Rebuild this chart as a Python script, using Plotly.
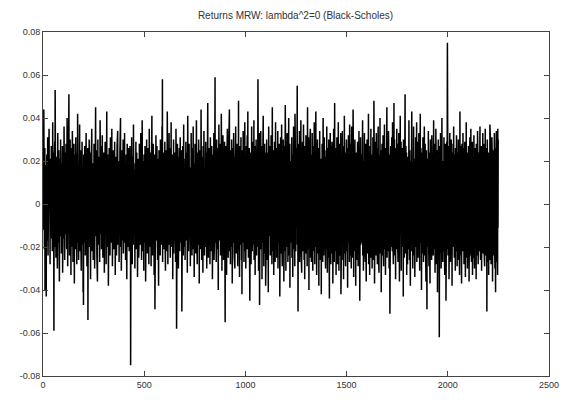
import plotly.graph_objects as go

# Daily returns in units of 0.001 (one value per time step, t = 0 .. 2249)
returns_milli = [
    5, -12, 20, 3, 44, -9, 14, -21, 7, 26, -40, 11, -3, 18, -15, 2, -43, 9, -6, 23, 13, -17, 4, 31, -8,
    -24, 10, -2, 16, -11, 35, 6, -19, 1, 12, -28, 21, -7, 8, 15, -13, 27, -4, -16, 3, 19, -22, 11, 38, -5,
    9, -14, 24, -1, -59, 17, -8, 6, 29, -20, 53, 2, -10, 13, -25, 7, 18, -3, 22, -12, 4, -30, 14, 33, -6,
    11, -18, 1, 25, -9, 15, -36, 8, 21, -4, 12, -15, 30, -7, 3, 19, -23, 10, -1, 16, -11, 27, -32, 5, 13,
    -2, 21, -16, 9, 36, -10, 4, -26, 14, 7, -19, 24, -5, 11, 28, -14, 2, -21, 17, 40, -8, 12, -29, 6, 18,
    -13, 3, 22, 51, -6, 15, -24, 8, -11, 30, 1, -17, 19, -33, 10, 26, -4, 13, -20, 5, 34, -9, 16, -27, 2,
    20, -15, 7, 28, -12, -37, 14, 3, 23, -8, 11, -21, 31, -3, 17, -10, 6, -28, 24, 9, -18, 42, -6, 13, -1,
    16, -26, 4, 19, -13, 9, 37, -22, 2, 14, -7, 25, -16, 8, -31, 21, 12, -5, 29, -19, 6, -11, 18, -41, 10,
    -47, 23, -9, 15, 4, -18, 27, -2, 12, -24, 20, 7, -14, 33, -6, 10, 18, -29, 3, 15, -12, 26, -54, 9, 21,
    -7, 13, -20, 30, 5, -16, 11, 24, -10, 2, -35, 17, 8, -3, 22, -13, 35, -22, 6, 14, -9, 19, 1, -26, 12,
    18, -5, 28, -18, 9, -30, 15, 4, -12, 21, 45, -15, 7, 25, -8, 13, -23, 1, 17, -36, 10, 30, -4, 14, -19,
    6, 22, -11, 3, 16, -27, 12, 39, -7, 19, -14, 8, -2, 27, -21, 11, 5, -17, 32, -9, 15, -25, 20, 2, -13,
    24, -8, 10, -32, 17, 6, -19, 29, -3, 13, -10, 21, -28, 4, 14, 43, -16, 9, -6, 23, -20, 11, 18, -38, 3,
    -11, 15, 26, -14, 7, 19, -24, 1, 31, -9, 12, -18, 5, 22, -4, 35, -15, 10, -29, 16, 8, -12, 25, -6, 13,
    -21, 4, 18, -1, 29, -16, 9, -33, 14, 22, -8, 3, 17, -24, 11, -5, 27, -13, 6, 34, -19, 12, -2, 20, -10,
    8, -27, 15, 2, -14, 24, -7, 11, 40, -20, 6, 13, -31, 19, 3, -11, 25, -17, 9, -4, 16, 30, -23, 5, -9,
    21, -12, 7, 33, -18, 10, -3, 17, -26, 12, 4, 23, -15, 8, -35, 14, 28, -6, 11, -20, 19, 1, -13, 26, -8,
    14, -22, 5, 18, -10, 27, -4, 12, -75, 9, 20, -16, 3, 31, -11, 15, -28, 6, 22, -7, 13, -19, 37, 2, -14,
    10, 25, -9, 16, -30, 4, 19, -13, 8, 29, -21, 12, -1, 24, -17, 7, 15, -34, 11, 3, 21, -10, 17, -25, 6,
    -15, 28, -5, 13, 22, -19, 9, -8, 33, -14, 18, 2, -26, 11, 6, 39, -12, 15, -22, 4, 20, -7, 12, -31, 23,
    -3, 16, -18, 8, 27, -11, 14, -36, 5, 21, -9, 10, 30, -15, 3, 17, -23, 12, -4, 26, -14, 7, 19, -28, 9,
    35, -10, 13, -20, 6, 24, -16, 2, 18, -29, 11, 15, -7, 41, -13, 9, -24, 20, 4, -11, 28, -18, 12, 6, -33,
    17, -6, 23, -49, 10, 14, -21, 8, 32, -12, 5, 19, -17, 27, -3, 13, -26, 9, 21, -8, 16, -38, 11, 25, -14,
    4, 20, -10, 15, -24, 30, 7, -15, 13, -5, 22, -19, 10, 36, -12, 58, -27, 8, 17, -9, 24, -16, 3, 19, -21,
    12, -7, 29, -13, 5, -31, 18, 10, -18, 25, -4, 14, -22, 9, 43, -10, 16, -28, 6, 21, -14, 11, -3, 33, -19,
    8, 26, -11, 15, -25, 3, 19, -8, 38, -16, 12, 5, -20, 23, -6, 14, -35, 17, 9, -12, 30, -23, 7, 18, -4,
    -17, 11, 24, -9, 16, -27, 6, 35, -14, 10, -58, 20, 2, -11, 28, -19, 13, -5, 22, -30, 8, 15, -13, 26, -7,
    19, -22, 4, 31, -10, 14, -18, 9, 25, -3, 17, -50, 12, 6, -15, 27, -8, 20, -24, 11, 37, -12, 5, 16, -20,
    13, 3, -26, 21, -7, 15, 29, -17, 8, -11, 24, -4, 18, -32, 10, 41, -14, 6, 19, -22, 12, -9, 28, -16, 2,
    23, -13, 9, -29, 17, 5, -19, 33, -6, 14, 22, -24, 11, -2, 26, -15, 8, 36, -21, 13, -10, 19, -34, 7, 16,
    -8, 28, -17, 12, 4, -23, 20, -12, 39, 9, -14, 15, -28, 24, -5, 11, 17, -19, 6, 30, -11, 14, -37, 21, -3,
    10, -16, 25, 7, -21, 13, 44, -9, 18, -26, 3, 15, -13, 22, 8, -32, 27, -7, 12, -18, 34, -4, 16, -24, 11,
    -1, 19, -14, 9, 29, -20, 14, -6, 24, -30, 11, 5, -17, 21, 47, -12, 8, -25, 17, 3, -10, 26, -19, 13, 6,
    -28, 15, 31, -8, 10, -22, 18, 4, -15, 27, -11, 20, -35, 12, 7, 23, -16, 14, -4, 33, -26, 9, 18, -13, 25,
    59, -18, 6, 21, -9, 14, -27, 11, 30, -14, 3, 19, -21, 26, -6, 12, -40, 17, 8, 37, -12, 22, -17, 5, 15,
    -10, 28, -24, 9, 18, -16, 42, -7, 13, -31, 21, 4, -19, 16, 32, -11, 10, -26, 24, -3, 14, -20, 29, 7, -13,
    -55, 20, 11, -15, 27, -8, 16, -33, 6, 23, -12, 35, -19, 10, 3, -25, 19, -5, 28, -16, 13, 44, -22, 8, -9,
    17, -28, 12, 25, -13, 4, -20, 30, -7, 15, -37, 21, 9, -11, 26, -18, 5, 33, -14, 12, -24, 18, 1, -30, 22,
    -6, 14, 36, -17, 10, -23, 20, -9, 28, 4, -15, 24, -29, 13, 8, -12, 48, -21, 16, -4, 22, -34, 11, 27, -10,
    19, -19, 6, 31, -13, 15, -26, 10, -42, 18, 25, -8, 12, -18, 34, 3, -14, 21, -27, 9, 16, -7, 38, -22, 13,
    -11, 23, -30, 8, 17, 27, -16, 11, -5, 32, -21, 14, 43, -13, 6, -25, 20, -9, 15, 26, -18, 10, -45, 18, 4,
    24, -12, 13, -28, 19, 5, 36, -15, 9, -22, 16, 29, -6, 12, -19, 22, -11, 39, -26, 7, 15, -14, 27, -33, 10,
    -8, 20, -17, 30, 11, -24, 14, 4, -13, 25, -20, 17, 58, -10, 8, -31, 23, -15, 13, 33, -47, 9, -5, 26, -16,
    12, 34, -21, 6, 18, -11, 27, -35, 15, 9, -18, 22, -7, 41, -14, 11, -29, 19, 4, -23, 28, -12, 16, -9, 24,
    -38, 13, 21, -16, 8, 30, -10, 17, -26, 5, 24, -13, 12, -41, 19, 36, -20, 7, 15, -15, 27, -8, 11, -24, 22,
    3, -14, 32, -19, 10, 18, -28, 14, 45, -11, 7, -22, 25, -6, 13, -33, 20, 9, -17, 29, -12, 16, -27, 12, 38,
    -21, 6, 17, -9, 26, -25, 11, 22, -15, 8, 34, -30, 14, -4, 19, -18, 28, 10, -12, 23, -43, 15, 5, -16, 31,
    -7, 20, -23, 13, 37, -14, 9, -29, 24, 2, -19, 16, 30, -11, 12, -36, 21, 7, -13, 27, -22, 14, 46, -9, 17,
    -31, 10, 25, -16, 15, -8, 33, -20, 11, 19, -27, 6, 22, -13, 40, -24, 9, 16, -10, 28, -39, 13, 20, -5, 12,
    -18, 27, -12, 8, 31, -25, 17, -6, 23, -34, 14, 11, -16, 36, -21, 5, 24, -14, 10, -29, 42, -9, 18, 13, -22,
    26, -15, 7, 21, -11, 30, 55, -19, 12, -3, -50, 16, 28, -24, 9, 19, -13, 34, -27, 14, 6, -17, 25, -10, 39,
    -20, 11, 17, -32, 24, 8, -14, 29, -22, 13, 4, -18, 37, -9, 20, -26, 15, 10, -35, 27, -12, 18, 3, -16, 32,
    -23, 14, 9, -13, 26, -29, 19, 45, -10, 12, -21, 31, -6, 16, -40, 22, 7, -15, 28, -19, 11, 35, -25, 13, -8,
    18, -27, 23, 6, -17, 33, -12, 15, -31, 20, 10, -9, 27, -22, 14, 38, -16, 8, -28, 21, -5, 17, -14, 43, -20,
    9, 24, -33, 13, -10, 19, 30, -23, 11, -15, 26, -7, 16, -38, 22, 12, -19, 34, -11, 7, 29, -26, 15, -13, 21,
    -42, 17, 10, -18, 28, -9, 23, -27, 14, 40, -14, 8, -24, 19, -3, 31, -20, 12, 25, -16, 9, -30, 22, 16, -11,
    14, -21, 36, -8, 18, -32, 11, 26, -15, 20, -25, 7, 30, -12, 15, -44, 24, 5, -19, 33, -10, 17, -28, 13, 27,
    -14, 22, -6, 29, -23, 12, 16, -37, 21, 9, -16, 35, -11, 19, -27, 14, 47, -18, 10, -22, 26, -8, 13, -33, 20,
    8, -17, 31, -12, 24, -28, 15, 11, -20, 38, -9, 17, -31, 22, 6, -14, 28, -24, 12, 19, -16, 33, -42, 10, 25,
    -13, 19, -26, 14, 34, -10, 21, -19, 9, 27, -35, 13, 18, -12, 41, -23, 11, 24, -15, 16, -29, 20, 7, -21, 30,
    -9, 15, -22, 26, 12, -39, 18, 8, -14, 32, -18, 23, -6, 14, -27, 37, -12, 19, 10, -24, 28, -16, 13, -30, 21,
    36, -20, 11, -13, 25, -25, 16, 44, -11, 20, -34, 9, 27, -17, 14, -8, 30, -22, 12, 18, -38, 15, 24, -12, 7,
    -26, 21, 13, -16, 29, -9, 17, -29, 22, 6, -14, 34, -21, 11, 26, -45, 19, 8, -13, 31, -19, 14, -7, 23, 16,
    -18, 27, -11, 12, 39, -24, 15, 20, -31, 10, -15, 24, -8, 33, -20, 13, 18, -27, 9, 28, -12, 16, -36, 21, 11,
    -14, 30, -23, 17, 7, -17, 25, -10, 42, -28, 14, 19, -13, 22, -33, 8, 27, -19, 15, -6, 35, -25, 12, 18, -10,
    23, -30, 16, 9, -21, 31, -12, 14, -26, 20, 48, -15, 11, -37, 24, 6, -18, 29, -9, 17, -24, 13, 33, -14, 19,
    -7, 26, -28, 12, 21, -13, 36, -20, 15, 8, -32, 23, -11, 18, -16, 40, -23, 10, 25, -15, 13, -41, 20, 7, -19,
    28, -12, 17, -24, 14, 32, -17, 9, -29, 22, 12, -10, 37, -21, 16, -14, 26, -33, 11, 19, -18, 24, -8, 15, 45,
    -25, 13, 20, -15, 29, -22, 10, 34, -11, 17, -30, 14, 23, -9, -51, 18, 12, -26, 27, -14, 21, -20, 9, 31, -16,
    15, -22, 38, -12, 19, 11, -28, 25, -7, 47, -18, 13, 30, -24, 16, -13, 22, -35, 10, 26, -17, 14, -10, 35, -21,
    12, 28, -15, 17, -27, 9, 24, -19, 33, -11, 15, -36, 20, 13, -22, 41, -14, 18, -8, 29, -31, 11, 23, -16, 14,
    -20, 26, -12, 19, 7, -43, 30, -17, 13, 21, -25, 16, -9, 35, 51, -23, 12, -14, 27, -19, 10, 24, -33, 15, -6,
    18, -28, 22, 11, -16, 32, -21, 14, 39, -13, 9, -26, 25, -10, 17, -38, 20, 12, -18, 28, -11, 15, 43, -22, 13,
    -15, 19, -30, 24, 8, -19, 36, -14, 16, -24, 21, 11, -34, 27, -12, 13, 31, -20, 9, -16, 23, 38, -27, 14, -9,
    22, -17, 29, -25, 12, 18, -13, 33, -21, 15, 7, -31, 20, -8, 42, -18, 11, 26, -15, 17, -40, 13, 24, -11, 19,
    -23, 15, 31, -14, 10, -27, 22, 17, -19, 36, -12, 14, -24, 28, 9, -16, 20, -36, 12, 25, -10, 18, -49, 21, 16,
    -12, 27, -20, 13, 34, -16, 8, -29, 24, 12, -14, 19, -37, 16, 30, -22, 11, 23, -9, 15, -26, 32, -13, 20, 6,
    -18, 14, 26, -24, 17, 39, -15, 10, -21, 23, -11, 28, -32, 13, 19, -17, 35, -9, 14, -28, 21, 11, -16, 25, -41,
    16, -13, 22, 30, -19, 12, -26, 18, -62, 15, 27, -14, 10, -23, 33, -11, 19, -30, 24, 8, -17, 40, -20, 13, 11,
    -27, 20, -10, 25, 14, -22, 31, -15, 17, 9, -33, 21, -12, 28, -18, 16, -45, 23, 12, -8, 29, -21, 15, 75, -16,
    19, -24, 11, 27, -13, 16, -35, 21, 8, -19, 33, -10, 14, -27, 22, 12, -16, 30, -21, 17, 4, -38, 24, -12, 15,
    -9, 28, -20, 13, 36, -17, 10, -25, 19, 23, -14, 16, -31, 26, -8, 14, 21, -22, 32, -13, 11, -29, 18, 7, -18,
    24, -15, 30, -26, 12, 17, -11, 22, -33, 15, 43, -19, 9, 27, -24, 14, -12, 20, -37, 11, 28, -16, 16, -21, 13,
    33, -22, 10, -14, 26, -28, 18, 12, -19, 29, -9, 15, -34, 21, 8, -16, 38, -25, 13, 19, -12, 24, -30, 11, 17,
    -20, 14, 27, -13, 19, -36, 22, 9, -17, 31, -24, 12, 16, -11, 35, -21, 14, -27, 24, 10, -15, 29, -33, 18, 6,
    -14, 21, -25, 15, 32, -18, 11, -30, 23, 13, -12, 26, -20, 17, 9, -35, 28, -16, 14, 22, -24, 12, 34, -13, 19,
    -28, 16, 24, -11, 13, -22, 30, -15, 18, 36, -19, 10, -26, 21, 14, -13, 27, -31, 12, 17, -17, 25, -9, 33, -23,
    11, 20, -16, 28, -21, 13, 15, -29, 22, -12, 35, -18, 9, -24, 26, 14, -14, 19, -50, 16, 30, -20, 12, -27, 23,
    -10, 17, -33, 24, 13, -15, 21, -26, 37, 11, -19, 29, -13, 16, -28, 22, 9, -22, 31, -14, 18, -36, 14, 25, -17,
    20, -12, 28, -24, 15, 33, -18, 11, -30, 26, -13, -41, 19, 23, -15, 34, -27, 13, 21, -20, 16, -33, 35, -11, 30,
]

time_index = list(range(len(returns_milli)))
returns = [v / 1000 for v in returns_milli]

y_tick_vals = [-0.08, -0.06, -0.04, -0.02, 0, 0.02, 0.04, 0.06, 0.08]
y_tick_text = ["-0.08", "-0.06", "-0.04", "-0.02", "0", "0.02", "0.04", "0.06", "0.08"]
x_tick_vals = [0, 500, 1000, 1500, 2000, 2500]
x_tick_text = ["0", "500", "1000", "1500", "2000", "2500"]

fig = go.Figure()
fig.add_trace(go.Scatter(
    x=time_index, y=returns, mode="lines",
    line=dict(color="#000000", width=1.5),
    showlegend=False, hoverinfo="skip",
))

axis_common = dict(
    showgrid=False, zeroline=False, showline=True, linecolor="#444444", linewidth=1,
    mirror="ticks", ticks="inside", ticklen=5, tickcolor="#444444", tickwidth=1,
    tickfont=dict(family="Liberation Sans, Arial, sans-serif", size=9, color="#333333"),
)

fig.update_layout(
    width=571, height=402,
    margin=dict(l=43, r=22, t=32, b=21),
    paper_bgcolor="white", plot_bgcolor="white",
    title=dict(
        text="Returns MRW: lambda^2=0 (Black-Scholes)",
        x=0.5175, xanchor="center", y=0.962, yanchor="middle",
        font=dict(family="Liberation Sans, Arial, sans-serif", size=10, color="#333333"),
    ),
    xaxis=dict(range=[0, 2500], tickvals=x_tick_vals, ticktext=x_tick_text, **axis_common),
    yaxis=dict(range=[-0.08, 0.08], tickvals=y_tick_vals, ticktext=y_tick_text, **axis_common),
)

fig.write_html("out.html")
